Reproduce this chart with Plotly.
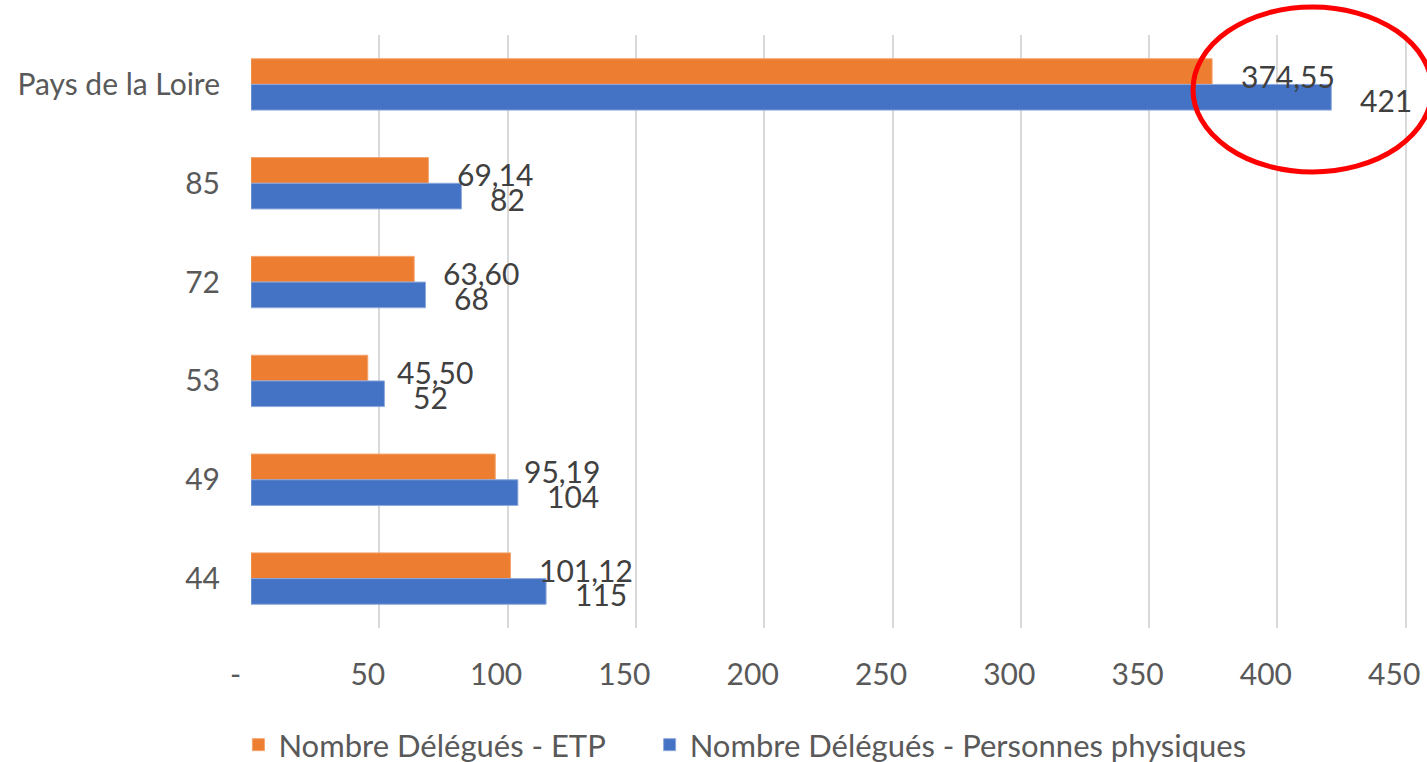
import plotly.graph_objects as go

categories = ["44", "49", "53", "72", "85", "Pays de la Loire"]
etp = [101.12, 95.19, 45.50, 63.60, 69.14, 374.55]
personnes = [115, 104, 52, 68, 82, 421]
etp_labels = ["101,12", "95,19", "45,50", "63,60", "69,14", "374,55"]
pers_labels = ["115", "104", "52", "68", "82", "421"]
x_ticks = [0, 50, 100, 150, 200, 250, 300, 350, 400, 450]
x_tick_text = ["-", "50", "100", "150", "200", "250", "300", "350", "400", "450"]
series_names = ["Nombre Délégués - ETP", "Nombre Délégués - Personnes physiques"]

ORANGE = "#ED7D31"
BLUE = "#4472C4"
FONT = "Lato"
half = 0.13
NB = "\u00a0"

idx = list(range(len(categories)))
y_etp = [i + half for i in idx]
y_pers = [i - half for i in idx]

# tick labels sit a little left of their gridlines, as in the reference
tick_text_shifted = [t + NB * (4 if t == "-" else 3) for t in x_tick_text]

fig = go.Figure()
fig.add_trace(go.Bar(
    name=series_names[0] + NB * 5, x=etp, y=y_etp, orientation="h",
    width=2 * half, marker=dict(color=ORANGE, line=dict(color="#F4A46E", width=1)),
))
fig.add_trace(go.Bar(
    name=series_names[1], x=personnes, y=y_pers, orientation="h",
    width=2 * half, marker=dict(color=BLUE, line=dict(color="#8FA9DC", width=1)),
))

annotations = []
for v, yy, t in zip(etp, y_etp, etp_labels):
    annotations.append(dict(x=v, y=yy, text=t, xanchor="left", yanchor="middle",
                            showarrow=False, xshift=27, yshift=-4,
                            font=dict(family=FONT, size=30, color="#404040")))
for v, yy, t in zip(personnes, y_pers, pers_labels):
    annotations.append(dict(x=v, y=yy, text=t, xanchor="left", yanchor="middle",
                            showarrow=False, xshift=27, yshift=-3,
                            font=dict(family=FONT, size=30, color="#404040")))

fig.update_layout(
    width=1427, height=762,
    margin=dict(l=251, r=20, t=35, b=134),
    plot_bgcolor="white", paper_bgcolor="white",
    barmode="overlay",
    font=dict(family=FONT, size=30, color="#595959"),
    xaxis=dict(range=[0, 450.5], tickvals=x_ticks, ticktext=tick_text_shifted,
               showgrid=True, gridcolor="#D9D9D9", gridwidth=2,
               zeroline=False, showline=False, ticks="", automargin=False,
               ticklabelstandoff=26, ticklabeloverflow="allow",
               tickfont=dict(family=FONT, size=30, color="#595959")),
    yaxis=dict(range=[-0.5, 5.5], tickvals=idx, ticktext=categories,
               showgrid=False, zeroline=False, showline=False, ticks="", automargin=False,
               ticklabelstandoff=30,
               tickfont=dict(family=FONT, size=30, color="#595959")),
    legend=dict(orientation="h", xref="container", yref="container",
                x=0.522, y=0.0223, xanchor="center", yanchor="middle",
                font=dict(family=FONT, size=31, color="#595959"),
                itemwidth=30),
    showlegend=True,
    annotations=annotations,
    shapes=[dict(type="circle", xref="paper", yref="paper",
                 x0=(1193 - 251) / 1156, x1=(1432 - 251) / 1156,
                 y0=(628 - 172) / 593, y1=(628 - 7) / 593,
                 line=dict(color="#FF0000", width=5), layer="above")],
)

fig.write_html("out.html", config={"displayModeBar": False},
               post_script="document.body.style.margin='0';document.body.style.padding='0';document.body.style.overflow='hidden';")
